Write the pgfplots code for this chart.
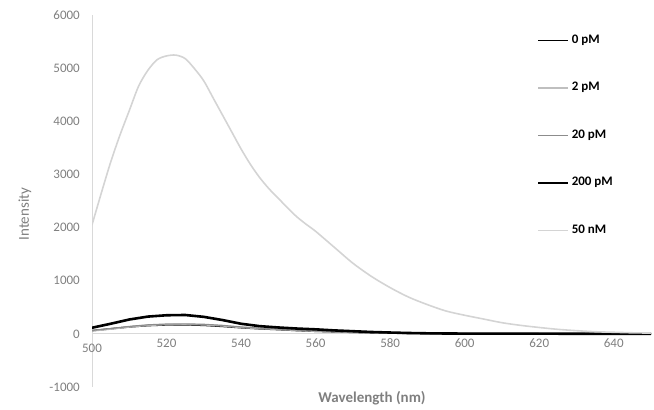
\documentclass[border=0pt]{standalone}
\usepackage{fontspec}
\setmainfont{Carlito}
\usepackage{pgfplots}
\usepackage{pgfplotstable}
\pgfplotsset{compat=1.18}
\definecolor{axgray}{HTML}{D9D9D9}
\definecolor{txtgray}{HTML}{7F7F7F}
\definecolor{lgray}{HTML}{BFBFBF}
\definecolor{mgray}{HTML}{8C8C8C}
\definecolor{vlgray}{HTML}{D4D4D4}

% wavelength (nm) vs intensity
\pgfplotstableread{
wl   p0   p2   p20  p200
500  60   55   65   115
505  95   90   100  190
510  130  130  140  270
515  155  160  170  325
520  168  175  185  350
525  170  178  188  355
530  160  170  180  320
535  140  150  160  260
540  115  120  130  190
545  95   100  108  145
550  80   85   90   120
555  62   65   70   100
560  48   50   55   85
565  38   40   42   65
570  28   30   32   50
575  20   22   24   35
580  14   15   16   25
585  10   11   12   16
590  7    8    8    10
595  5    6    6    7
600  4    5    5    5
605  4    4    4    4
610  3    3    3    4
615  3    3    3    3
620  2    2    2    3
625  2    2    2    3
630  2    2    2    2
635  2    2    2    2
640  1    1    1    2
645  1    1    1    2
650  1    1    1    1
}\low

% 50 nM, finer steps round the peak
\pgfplotstableread{
wl     n50
500    2050
502.5  2650
505    3230
507.5  3740
510    4200
512.5  4660
515    4960
517.5  5160
520    5230
522.5  5245
525    5180
527.5  4990
530    4760
532.5  4440
535    4120
537.5  3800
540    3480
542.5  3190
545    2940
547.5  2730
550    2550
552.5  2370
555    2200
557.5  2060
560    1930
565    1630
570    1330
575    1080
580    870
585    690
590    550
595    430
600    350
605    280
610    210
615    160
620    120
625    85
630    60
635    40
640    30
645    20
650    15
}\high

\begin{document}
\begin{tikzpicture}
\begin{axis}[
    at={(92pt,23pt)}, anchor=south west,
    scale only axis, width=559pt, height=372pt,
    xmin=500, xmax=650, ymin=-1000, ymax=6000,
    axis x line=middle, axis y line=left,
    axis line style={draw=axgray, line width=1pt, -},
    xtick={520,540,...,640}, ytick={-1000,0,...,6000},
    extra x ticks={500},
    major tick length=0pt, tick style={draw=none},
    ticklabel style={font=\fontsize{13}{15}\selectfont, text=txtgray},
    xticklabel style={inner sep=0pt, anchor=north, yshift=-5pt},
    extra x tick style={xticklabel style={inner sep=0pt, anchor=north, yshift=-5pt}},
    yticklabel style={inner sep=0pt, anchor=east, xshift=-12pt},
    /pgf/number format/assume math mode=true,
    /pgf/number format/1000 sep={},
    legend image code/.code={\draw[#1] (0pt,0pt) -- (30pt,0pt);},
    legend cell align=left,
    legend style={at={(rel axis cs:0.796,0.946)}, anchor=north west,
        draw=none, fill=none, inner sep=0pt, column sep=2pt, row sep=37pt,
        font=\fontsize{13}{15}\selectfont\bfseries,
        nodes={inner sep=0pt, text height=8pt, text depth=2.5pt}},
]
\addplot[black, line width=1.5pt] table[x=wl, y=p0] {\low};
\addlegendentry{0 pM}
\addplot[lgray, line width=1.5pt] table[x=wl, y=p2] {\low};
\addlegendentry{2 pM}
\addplot[mgray, line width=1.2pt] table[x=wl, y=p20] {\low};
\addlegendentry{20 pM}
\addplot[black, line width=2.6pt] table[x=wl, y=p200] {\low};
\addlegendentry{200 pM}
\addplot[vlgray, line width=1.6pt, smooth] table[x=wl, y=n50] {\high};
\addlegendentry{50 nM}
\end{axis}
\node[font=\fontsize{15}{17}\selectfont, text=txtgray, rotate=90] at (25pt,196pt) {Intensity};
\node[font=\fontsize{15}{17}\selectfont\bfseries, text=txtgray] at (372pt,12pt) {Wavelength (nm)};
\pgfresetboundingbox
\path[use as bounding box] (0,0) rectangle (654pt,410pt);
\end{tikzpicture}
\end{document}
